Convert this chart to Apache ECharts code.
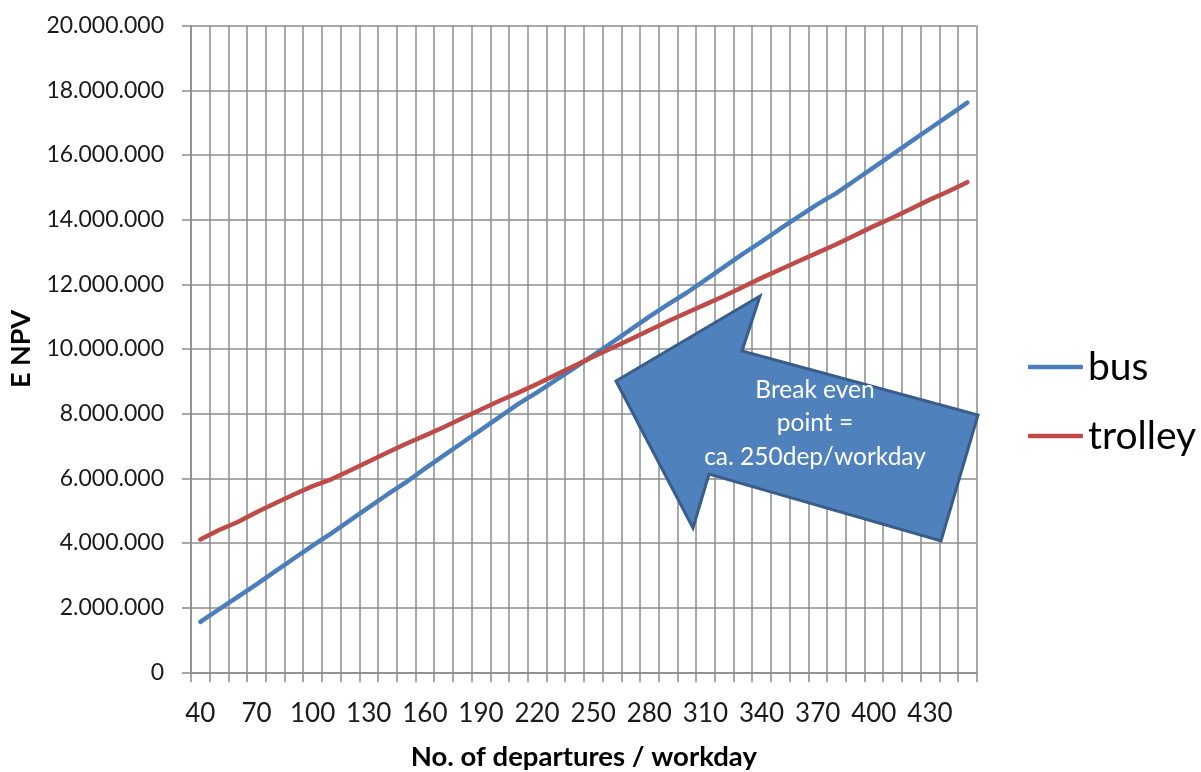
<!DOCTYPE html>
<html>
<head>
<meta charset="utf-8">
<title>E NPV – bus vs trolley</title>
<script src="https://cdn.jsdelivr.net/npm/echarts@6/dist/echarts.min.js"></script>
<style>
  html, body { margin: 0; padding: 0; background: #ffffff; }
  #chart { width: 1201px; height: 772px; }
</style>
</head>
<body>
<div id="chart"></div>
<script>
// Departures per workday (category axis)
const departures = [40, 50, 60, 70, 80, 90, 100, 110, 120, 130, 140, 150, 160, 170,
  180, 190, 200, 210, 220, 230, 240, 250, 260, 270, 280, 290, 300, 310, 320, 330,
  340, 350, 360, 370, 380, 390, 400, 410, 420, 430, 440, 450];

// Expected net present value per option
const busNPV = [1560000, 1950000, 2330000, 2720000, 3120000, 3520000, 3920000, 4300000,
  4700000, 5100000, 5500000, 5880000, 6300000, 6700000, 7100000, 7500000, 7900000,
  8300000, 8660000, 9040000, 9420000, 9800000, 10200000, 10600000, 11000000, 11380000,
  11740000, 12140000, 12540000, 12940000, 13320000, 13720000, 14100000, 14480000,
  14820000, 15220000, 15620000, 16020000, 16420000, 16820000, 17220000, 17620000];

const trolleyNPV = [4110000, 4400000, 4650000, 4950000, 5230000, 5500000, 5760000, 5970000,
  6240000, 6520000, 6800000, 7070000, 7320000, 7580000, 7860000, 8130000, 8400000,
  8650000, 8920000, 9200000, 9480000, 9760000, 10030000, 10300000, 10580000, 10860000,
  11120000, 11380000, 11640000, 11920000, 12200000, 12460000, 12720000, 12980000,
  13240000, 13520000, 13800000, 14060000, 14340000, 14620000, 14880000, 15160000];

const seriesNames = ['bus', 'trolley'];
const noteLines = ['Break even', 'point =', 'ca. 250dep/workday'];

const FONT = 'Lato, "Open Sans", sans-serif';
const GRID_COLOR = '#8c8c8c';

// Dots as thousands separators: 12000000 -> 12.000.000
function dotted(v) {
  return String(v).replace(/\B(?=(\d{3})+(?!\d))/g, '.');
}

const chart = echarts.init(document.getElementById('chart'), null, { renderer: 'canvas' });

// Block arrow pointing at the crossing of the two lines
const arrowShape = [
  [760, 296], [742, 351], [978, 415], [941, 541],
  [709, 474], [693, 528], [616, 381]
];

const noteText = noteLines.map((t, i) => ({
  type: 'text',
  z: 101,
  style: {
    x: 815, y: 390 + i * 33.5,
    text: t,
    fill: '#ffffff',
    font: '24.5px ' + FONT,
    textAlign: 'center',
    textVerticalAlign: 'middle'
  }
}));

chart.setOption({
  animation: false,
  backgroundColor: '#ffffff',
  textStyle: { fontFamily: FONT },
  grid: { left: 191, right: 224.3, top: 25.7, bottom: 99.7, containLabel: false, outerBoundsMode: 'none' },
  legend: {
    orient: 'vertical',
    left: 1028, top: 346,
    padding: 0,
    itemWidth: 55, itemHeight: 4.5, itemGap: 27,
    icon: 'roundRect',
    data: seriesNames,
    textStyle: { fontFamily: FONT, fontSize: 39, lineHeight: 42, color: '#000000' }
  },
  xAxis: {
    type: 'category',
    data: departures,
    boundaryGap: true,
    name: 'No. of departures / workday',
    nameLocation: 'middle',
    nameGap: 71,
    nameTextStyle: { fontFamily: FONT, fontSize: 27.5, fontWeight: 'bold', color: '#000000' },
    axisLine: { show: true, lineStyle: { color: GRID_COLOR, width: 1.5 } },
    axisTick: { show: true, interval: 0, length: 10, lineStyle: { color: GRID_COLOR, width: 1.5 } },
    axisLabel: { interval: 2, margin: 28, fontSize: 26, color: '#1a1a1a', fontFamily: FONT },
    splitLine: { show: true, interval: 0, lineStyle: { color: GRID_COLOR, width: 1.5 } }
  },
  yAxis: {
    type: 'value',
    min: 0, max: 20000000, interval: 2000000,
    name: 'E NPV',
    nameLocation: 'middle',
    nameGap: 156,
    nameTextStyle: { fontFamily: FONT, fontSize: 27, fontWeight: 'bold', color: '#000000' },
    axisLine: { show: true, lineStyle: { color: GRID_COLOR, width: 1.5 } },
    axisTick: { show: true, length: 9, lineStyle: { color: GRID_COLOR, width: 1.5 } },
    axisLabel: { margin: 27, fontSize: 23, color: '#1a1a1a', fontFamily: FONT, formatter: dotted },
    splitLine: { show: true, lineStyle: { color: GRID_COLOR, width: 1.5 } }
  },
  series: [
    {
      name: seriesNames[0], type: 'line', data: busNPV,
      symbol: 'none', smooth: false, z: 3,
      itemStyle: { color: '#4a7ebb' },
      lineStyle: { color: '#4a7ebb', width: 4.5, cap: 'round', join: 'round' }
    },
    {
      name: seriesNames[1], type: 'line', data: trolleyNPV,
      symbol: 'none', smooth: false, z: 3,
      itemStyle: { color: '#be4b48' },
      lineStyle: { color: '#be4b48', width: 4.5, cap: 'round', join: 'round' }
    }
  ],
  graphic: [
    {
      type: 'polygon',
      z: 100,
      shape: { points: arrowShape },
      style: { fill: '#4f81bd', stroke: '#385d8a', lineWidth: 3, lineJoin: 'miter' }
    }
  ].concat(noteText)
});
</script>
</body>
</html>
